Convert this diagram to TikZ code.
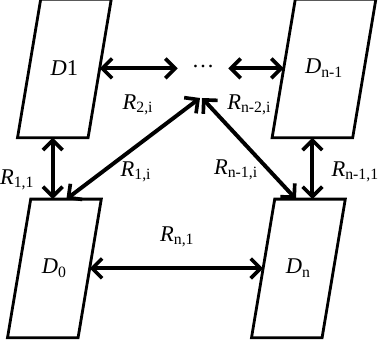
\documentclass[tikz,border=0pt]{standalone}
\usepackage{amsmath}
\usepackage{fontspec}
\setmainfont{Liberation Serif}
\usetikzlibrary{arrows.meta}

\tikzset{
  disk/.style={minimum width=1.75cm,minimum height=3.45cm,inner sep=0pt},
  link/.style={{Straight Barb[length=7pt,width=14pt,line width=2.6pt]}-{Straight Barb[length=7pt,width=14pt,line width=2.6pt]},line width=2.8pt}
}
\newcommand{\rlab}[2]{$\textit{#1}_{\text{#2}}$}

\begin{document}
\begin{tikzpicture}[every node/.style={font=\fontsize{16}{19}\selectfont}]
\useasboundingbox (0,0) rectangle (9.45,8.5);
\node[disk] (d1) at (1.61,6.79) {\textit{D}1};
\node[disk,minimum width=2cm] (dn1) at (8.1,6.79) {\rlab{D}{n-1}};
\node[disk] (d0) at (1.36,1.79) {\rlab{D}{0}};
\node[disk] (dn) at (7.46,1.79) {\rlab{D}{n}};
\foreach \n in {d1,dn1,d0,dn}
  \draw[line width=2pt] ([xshift=-0.29cm]\n.south west) -- ([xshift=-0.29cm]\n.south east)
    -- ([xshift=0.29cm]\n.north east) -- ([xshift=0.29cm]\n.north west) -- cycle;
\node[minimum width=1.25cm,inner sep=0pt] (dots) at (5.075,6.85) {\ldots};
\coordinate (apex) at (5.0,6.05);

\draw[link] (d1.east) -- (d1.east -| dots.west);
\draw[link] (dn1.west -| dots.east) -- (dn1.west);
\draw[link] ([xshift=-0.29cm]d1.south) -- ([xshift=-0.29cm]d1.south |- d0.north);
\draw[link] ([xshift=-0.29cm]dn1.south) -- ([xshift=-0.29cm]dn1.south |- dn.north);
\draw[link] (apex) -- ([xshift=0.3cm]d0.north);
\draw[link] ([xshift=0.05cm]apex) -- ([xshift=-0.06cm]dn.north);
\draw[link] (d0.east) -- (dn.west);

\node (r2i) at (3.45,5.88) {\rlab{R}{2,i}};
\node (rn2i) at (6.23,5.88) {\rlab{R}{n-2,i}};
\node (r1i) at (3.4,4.2) {\rlab{R}{1,i}};
\node (rn1i) at (5.9,4.25) {\rlab{R}{n-1,i}};
\node (r11) at (0.43,4.0) {\rlab{R}{1,1}};
\node (rn11) at (8.88,4.2) {\rlab{R}{n-1,1}};
\node (rn1) at (4.43,2.58) {\rlab{R}{n,1}};
\end{tikzpicture}
\end{document}
